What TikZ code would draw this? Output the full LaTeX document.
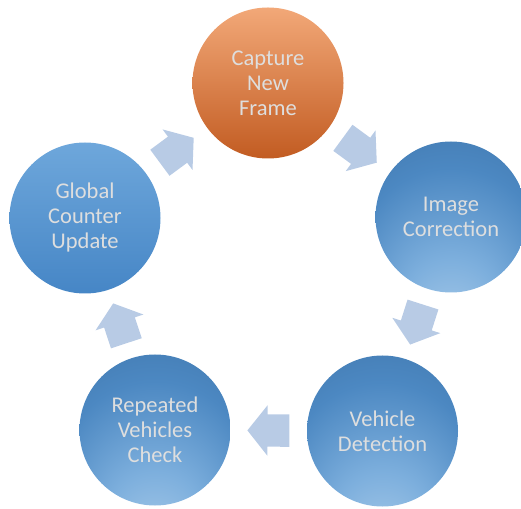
\documentclass[tikz,border=0pt]{standalone}
\usepackage{fontspec}
\setmainfont{Carlito}
\usetikzlibrary{shapes.arrows}

\definecolor{stagetext}{HTML}{DEDEDE}
\definecolor{orangetop}{HTML}{F2A878}
\definecolor{orangemid}{HTML}{EA7F3D}
\definecolor{orangebot}{HTML}{C25C22}
\definecolor{flattop}{HTML}{6EA7DB}
\definecolor{flatmid}{HTML}{5094D4}
\definecolor{flatbot}{HTML}{4686C6}
\definecolor{glowA}{HTML}{B2D1EC}
\definecolor{glowB}{HTML}{7DAFDD}
\definecolor{glowC}{HTML}{4C88C2}
\definecolor{glowD}{HTML}{3A6EA2}
\definecolor{arrowtop}{HTML}{C6D7ED}
\definecolor{arrowbot}{HTML}{A6BDDC}

% blue stage discs: dark on top, soft glow rising from the bottom edge
\pgfdeclareradialshading{stepglow}{\pgfpoint{0bp}{-44bp}}{%
  color(0bp)=(glowA); color(16bp)=(glowB); color(32bp)=(glowC); color(50bp)=(glowD)}

\begin{document}
\begin{tikzpicture}[x=1pt,y=1pt]
\tikzset{
  stage/.style={circle, minimum size=151pt, inner sep=0pt, align=center,
    text=stagetext, font=\fontsize{22.5}{25}\selectfont},
  bluestage/.style={stage, shade, shading=stepglow},
  flatstage/.style={stage, top color=flattop, middle color=flatmid, bottom color=flatbot},
  hotstage/.style={stage, top color=orangetop, middle color=orangemid, bottom color=orangebot},
  cyclearrow/.style={single arrow, draw=none, minimum height=42pt, minimum width=50pt,
    inner xsep=0pt, inner ysep=16pt,
    single arrow head extend=9pt, single arrow tip angle=103,
    fill=arrowtop!55!arrowbot, sloped, allow upside down, pos=0.42}
}
\useasboundingbox (0,0) rectangle (521,508);

\node[hotstage]  (capture) at (268,425)   {Capture\\New\\Frame};
\node[bluestage] (correct) at (451,291)   {Image\\Correction};
\node[bluestage] (detect)  at (382.5,77)  {Vehicle\\Detection};
\node[bluestage] (repeat)  at (155,78)    {Repeated\\Vehicles\\Check};
\node[flatstage] (counter) at (85,290)    {Global\\Counter\\Update};

\path (capture) -- node[cyclearrow] (a1) {} (correct);
\path (correct) -- node[cyclearrow] (a2) {} (detect);
\path (detect)  -- node[cyclearrow] (a3) {} (repeat);
\path (repeat)  -- node[cyclearrow] (a4) {} (counter);
\path (counter) -- node[cyclearrow] (a5) {} (capture);
\end{tikzpicture}
\end{document}
